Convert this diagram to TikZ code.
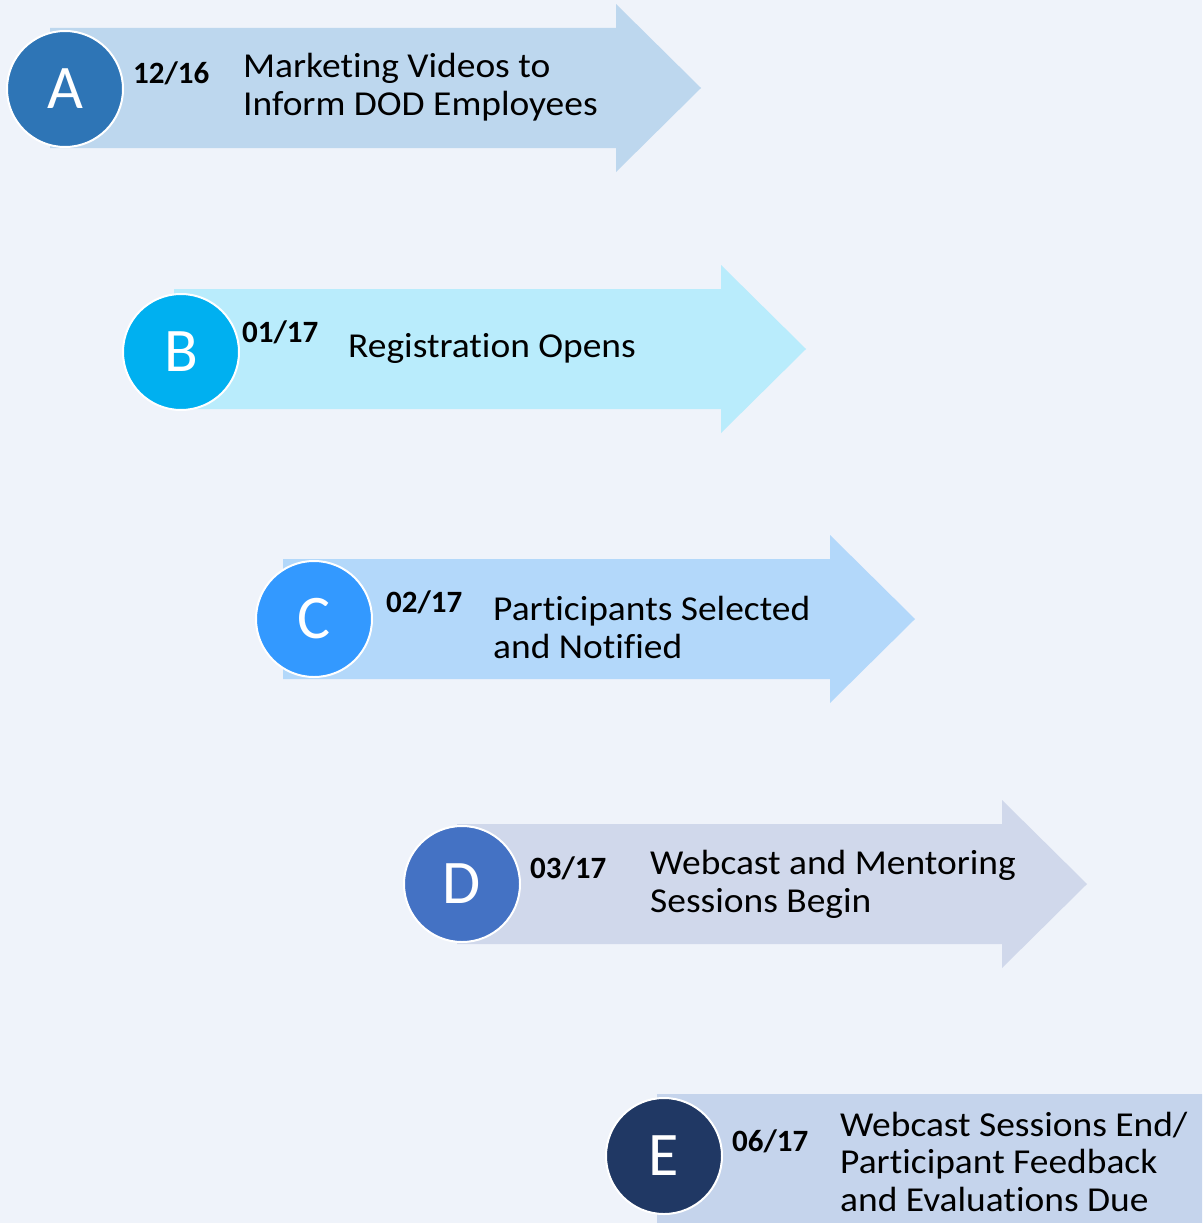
\documentclass[tikz,border=0pt]{standalone}
\usepackage{fontspec}
\setmainfont{Carlito}
\newfontfamily\widefont[FakeStretch=1.07,Ligatures=NoCommon]{Carlito}
\definecolor{bgc}{HTML}{EFF3FA}
\definecolor{arA}{HTML}{BDD7EE}
\definecolor{ciA}{HTML}{2E75B6}
\definecolor{arB}{HTML}{B9ECFC}
\definecolor{ciB}{HTML}{00B0F0}
\definecolor{arC}{HTML}{B3D8FA}
\definecolor{ciC}{HTML}{3399FF}
\definecolor{arD}{HTML}{D0D8EB}
\definecolor{ciD}{HTML}{4472C4}
\definecolor{arE}{HTML}{C5D4EC}
\definecolor{ciE}{HTML}{203864}
\tikzset{
  letter/.style={circle, draw=white, line width=2pt, minimum size=116pt, inner sep=0pt,
    text=white, font=\fontsize{62}{62}\selectfont},
  datetxt/.style={anchor=base west, inner sep=0pt, font=\fontsize{31}{36}\selectfont\bfseries},
  maintxt/.style={anchor=base west, inner sep=0pt, align=left, font=\widefont\fontsize{35}{37.5}\selectfont},
}
\newcommand{\bigarrow}[5]{% left, top, bottom, tip, color
  \fill[#5] (#1,#2) -- (#4-85,#2) -- (#4-85,#2-24) -- (#4,{(#2+#3)/2}) -- (#4-85,#3+24) -- (#4-85,#3) -- (#1,#3) -- cycle;}
\begin{document}
\begin{tikzpicture}[x=1pt,y=-1pt]
\useasboundingbox (0,0) rectangle (1202,1223);
\clip (0,0) rectangle (1202,1223);
\fill[bgc] (0,0) rectangle (1202,1223);
% arrows
\bigarrow{50}{28}{148}{701}{arA}
\bigarrow{174}{289}{409}{806}{arB}
\bigarrow{283}{559}{679}{915}{arC}
\bigarrow{457}{824}{944}{1087}{arD}
\fill[arE] (657,1094) rectangle (1250,1260);
% circles
\node[letter, fill=ciA] (cA) at (65,89) {A};
\node[letter, fill=ciB] (cB) at (181,352) {B};
\node[letter, fill=ciC] (cC) at (314,619) {C};
\node[letter, fill=ciD] (cD) at (462,884) {D};
\node[letter, fill=ciE] (cE) at (664,1156) {E};
% dates
\node[datetxt] (dA) at (133,83) {12/16};
\node[datetxt] (dB) at (242,342) {01/17};
\node[datetxt] (dC) at (386,612) {02/17};
\node[datetxt] (dD) at (530,878) {03/17};
\node[datetxt] (dE) at (732,1151) {06/17};
% texts (anchor = baseline of last line)
\node[maintxt] (tA) at (243,115) {Marketing Videos to\\Inform DOD Employees};
\node[maintxt] (tB) at (348,357) {Registration Opens};
\node[maintxt] (tC) at (493,658) {Participants Selected\\and Notified};
\node[maintxt] (tD) at (650,912) {Webcast and Mentoring\\Sessions Begin};
\node[maintxt] (tE) at (840,1211) {Webcast Sessions End/\\Participant Feedback\\and Evaluations Due};
\end{tikzpicture}
\end{document}
